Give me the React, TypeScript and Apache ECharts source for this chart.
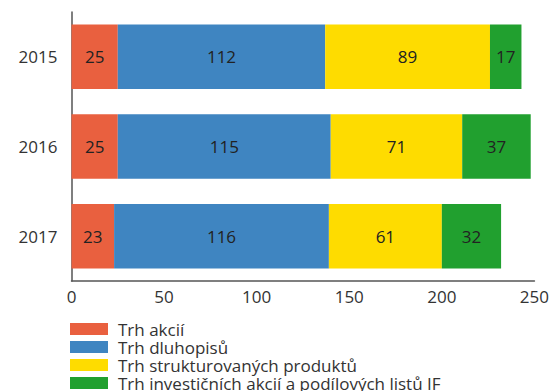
import React, { useEffect, useRef } from "react";
import * as echarts from "echarts";

const categories = ["2015", "2016", "2017"];
const seriesNames = [
  "Trh akcií",
  "Trh dluhopisů",
  "Trh strukturovaných produktů",
  "Trh investičních akcií a podílových listů IF",
];
const akcie = [25, 25, 23];
const dluhopisy = [112, 115, 116];
const strukturovane = [89, 71, 61];
const investicni = [17, 37, 32];
const colors = ["#E9603F", "#3F85C1", "#FEDC00", "#21A02F"];
const xTicks = { min: 0, max: 250, interval: 50 };

const FONT = "Open Sans";
const FS = 17;

export default function App() {
  const ref = useRef<HTMLDivElement>(null);
  useEffect(() => {
    if (!ref.current) return;
    const chart = echarts.init(ref.current, undefined, { renderer: "svg" });
    const values = [akcie, dluhopisy, strukturovane, investicni];
    chart.setOption({
      animation: false,
      textStyle: { fontFamily: FONT },
      grid: { left: 71.5, right: 17, top: 12, height: 269, containLabel: false },
      legend: {
        orient: "vertical",
        left: 70,
        top: 320,
        height: 120,
        padding: 0,
        itemWidth: 38,
        itemHeight: 12,
        itemGap: 0,
        icon: "rect",
        selectedMode: false,
        textStyle: {
          fontFamily: FONT,
          fontSize: FS,
          lineHeight: 18,
          color: "#333",
          padding: [0, 0, 0, 5],
        },
        data: seriesNames,
      },
      xAxis: {
        type: "value",
        min: xTicks.min,
        max: xTicks.max,
        interval: xTicks.interval,
        splitLine: { show: false },
        axisTick: { show: false },
        axisLine: { show: true, lineStyle: { color: "#555", width: 1.5 } },
        axisLabel: { color: "#333", fontSize: FS, margin: 7, fontFamily: FONT },
      },
      yAxis: {
        type: "category",
        data: categories,
        inverse: true,
        axisTick: { show: false },
        axisLine: { show: true, lineStyle: { color: "#555", width: 1.5 } },
        axisLabel: { color: "#333", fontSize: FS, margin: 14, fontFamily: FONT },
      },
      series: seriesNames.map((name, i) => ({
        name,
        type: "bar",
        stack: "total",
        barWidth: "72%",
        data: values[i],
        itemStyle: { color: colors[i] },
        label: {
          show: true,
          position: "inside",
          color: "#222",
          fontSize: FS,
          fontFamily: FONT,
        },
      })),
    });
    return () => chart.dispose();
  }, []);
  return (
    <div
      ref={ref}
      style={{ position: "fixed", left: 0, top: 0, width: 552, height: 391, background: "#fff" }}
    />
  );
}
